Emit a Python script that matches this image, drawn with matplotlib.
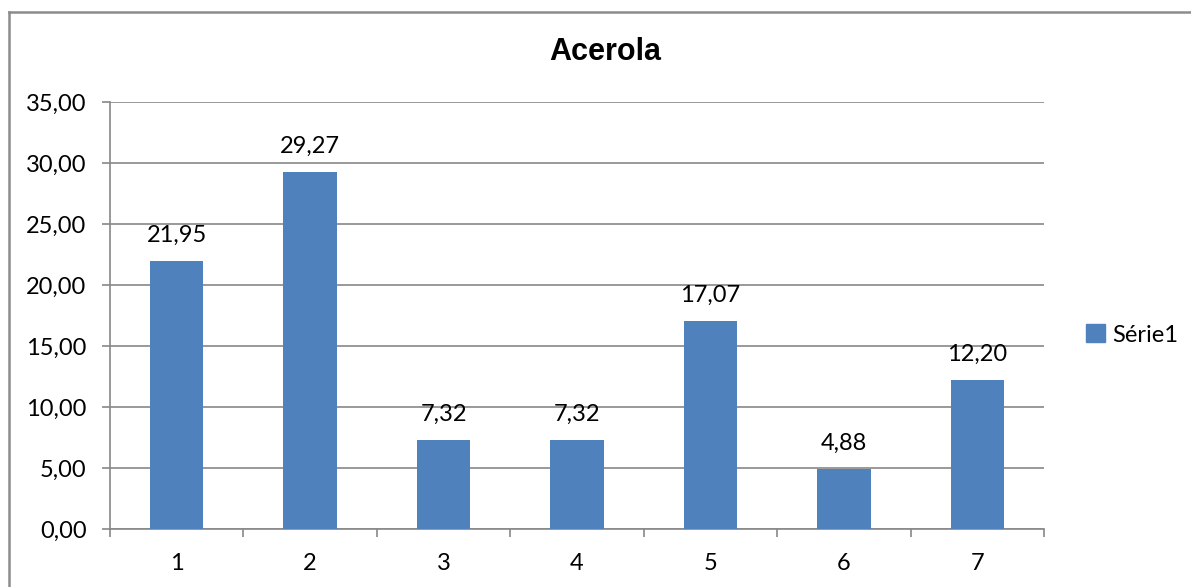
import matplotlib
matplotlib.use("Agg")
import matplotlib.pyplot as plt
import matplotlib.patches as mpatches
from matplotlib.lines import Line2D
import numpy as np

categories = ["1", "2", "3", "4", "5", "6", "7"]
values = [21.95, 29.27, 7.32, 7.32, 17.07, 4.88, 12.20]
yticks = [0, 5, 10, 15, 20, 25, 30, 35]
title = "Acerola"
series_name = "Série1"

BAR = "#4F81BD"
GRID = "#888888"

plt.rcParams["font.family"] = ["Lato", "DejaVu Sans"]

def fmt(v):
    return f"{v:.2f}".replace(".", ",")

W, H = 1191, 587
fig = plt.figure(figsize=(W / 100, H / 100), dpi=100)
fig.patch.set_facecolor("white")
ax = fig.add_axes([110 / W, 1 - 529 / H, (1044 - 110) / W, (529 - 102) / H])

x = np.arange(1, len(values) + 1)
ax.bar(x, values, width=0.4, color=BAR, zorder=3)
for xi, v in zip(x, values):
    ax.annotate(fmt(v), (xi, v), xytext=(0, 11), textcoords="offset points",
                ha="center", va="bottom", fontsize=17, color="black")

ax.set_xlim(0.5, len(values) + 0.5)
ax.set_ylim(0, 35)
ax.set_yticks(yticks)
ax.set_yticklabels([fmt(t) for t in yticks])
ax.set_xticks(x)
ax.set_xticklabels(categories)
ax.set_xticks(np.arange(0.5, len(values) + 1), minor=True)
ax.tick_params(axis="x", which="major", length=0, pad=17, labelsize=17)
ax.tick_params(axis="x", which="minor", length=6, width=1.2, color=GRID)
ax.tick_params(axis="y", length=6, width=1.2, color=GRID, pad=11, labelsize=17)

ax.grid(axis="y", color=GRID, linewidth=1.2, zorder=0)
for s in ("top", "right"):
    ax.spines[s].set_visible(False)
for s in ("left", "bottom"):
    ax.spines[s].set_color(GRID)
    ax.spines[s].set_linewidth(1.2)

fig.text(605 / W, 1 - 52 / H, title, ha="center", va="center",
         fontsize=22, fontweight="bold", family="Liberation Sans")

handle = mpatches.Patch(color=BAR, label=series_name)
fig.legend(handles=[handle], loc="center left",
           bbox_to_anchor=(1086 / W, 1 - 335 / H), frameon=False,
           fontsize=17, handlelength=0.8, handleheight=0.8, handletextpad=0.3,
           borderpad=0, borderaxespad=0)

fig.add_artist(Line2D([9 / W, 9 / W], [0, 1 - 12 / H], color="#8c8c8c",
                      linewidth=1.8, transform=fig.transFigure))
fig.add_artist(Line2D([9 / W, 1], [1 - 12 / H, 1 - 12 / H], color="#8c8c8c",
                      linewidth=1.8, transform=fig.transFigure))

fig.savefig("out.png", dpi=100, facecolor="white")
